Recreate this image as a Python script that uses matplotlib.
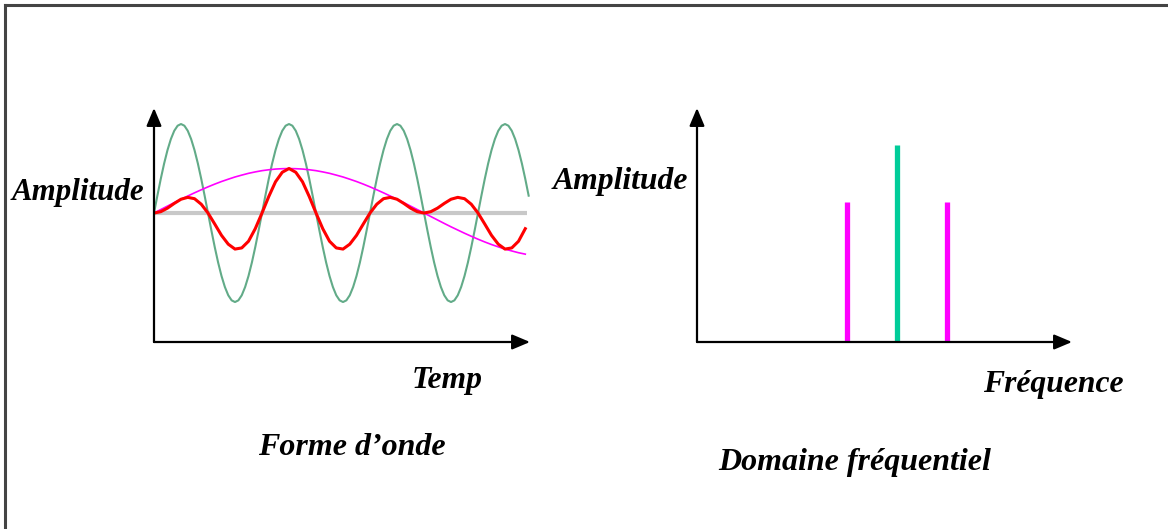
import matplotlib
matplotlib.use("Agg")
import matplotlib.pyplot as plt
from matplotlib.lines import Line2D

# waveform samples (one sample every ~6.75 px of time)
t = list(range(56))
magenta = [0, 0.039, 0.078, 0.117, 0.155, 0.191, 0.227, 0.261, 0.294, 0.325, 0.354, 0.380, 0.405, 0.426,
           0.446, 0.462, 0.476, 0.486, 0.494, 0.498, 0.5, 0.498, 0.494, 0.486, 0.476, 0.462, 0.446, 0.426,
           0.405, 0.380, 0.354, 0.325, 0.294, 0.261, 0.227, 0.191, 0.155, 0.117, 0.078, 0.039, 0,
           -0.039, -0.078, -0.117, -0.155, -0.191, -0.227, -0.261, -0.294, -0.325, -0.354, -0.380,
           -0.405, -0.426, -0.446, -0.462]
red = [0, 0.015, 0.055, 0.108, 0.155, 0.176, 0.161, 0.099, 0, -0.124, -0.251, -0.350, -0.405, -0.392,
       -0.317, -0.176, 0, 0.185, 0.351, 0.458, 0.5, 0.458, 0.351, 0.185, 0, -0.176, -0.317, -0.392,
       -0.405, -0.350, -0.251, -0.124, 0, 0.099, 0.161, 0.176, 0.155, 0.108, 0.055, 0.015, 0,
       0.015, 0.055, 0.108, 0.155, 0.176, 0.161, 0.099, 0, -0.124, -0.251, -0.350, -0.405, -0.392,
       -0.317, -0.176]

# green carrier, sampled twice as often (every half step)
t_green = [i * 0.5 for i in range(112)]
green_period = [0, 0.195, 0.383, 0.556, 0.707, 0.831, 0.924, 0.981, 1.0, 0.981, 0.924, 0.831,
                0.707, 0.556, 0.383, 0.195, 0, -0.195, -0.383, -0.556, -0.707, -0.831, -0.924,
                -0.981, -1.0, -0.981, -0.924, -0.831, -0.707, -0.556, -0.383, -0.195]
green = green_period * 3 + green_period[:16]

# spectrum lines (right panel)
freqs = [3, 4, 5]
amps = [0.71, 1.0, 0.71]
line_colors = ["#ff00ff", "#00cc99", "#ff00ff"]

W, H = 1168, 529
fig = plt.figure(figsize=(W / 100, H / 100), dpi=100)
fig.patch.set_facecolor("white")

def px_axes(x0, y0, x1, y1):
    # x0,y0 = top-left, x1,y1 = bottom-right in pixels
    return fig.add_axes([x0 / W, 1 - y1 / H, (x1 - x0) / W, (y1 - y0) / H])

def draw_arrows(ax):
    kw = dict(arrowstyle="-|>,head_length=0.9,head_width=0.38", mutation_scale=12,
              color="black", lw=1.6, shrinkA=0, shrinkB=0)
    ax.annotate("", xy=(1, 0), xytext=(0, 0), xycoords="axes fraction",
                arrowprops=kw, annotation_clip=False)
    ax.annotate("", xy=(0, 1), xytext=(0, 0), xycoords="axes fraction",
                arrowprops=kw, annotation_clip=False)

# left: waveforms
ax1 = px_axes(154, 108, 530, 342)
ax1.set_xlim(0, 55.7)
ax1.set_ylim(-1.449, 1.18)
ax1.axis("off")
ax1.plot([0, 55.3], [0, 0], color="#c8c8c8", lw=3, solid_capstyle="butt")
ax1.plot(t_green, green, color="#62ab88", lw=1.5)
ax1.plot(t, magenta, color="#ff00ff", lw=1.2)
ax1.plot(t, red, color="#ff0000", lw=2.2)
draw_arrows(ax1)

# right: spectrum
ax2 = px_axes(697, 108, 1072, 342)
ax2.set_xlim(0, 7.5)
ax2.set_ylim(0, 234 / 197)
ax2.axis("off")
for f, a, c in zip(freqs, amps, line_colors):
    ax2.vlines(f, 0, a, color=c, lw=3.8)
draw_arrows(ax2)

txt = dict(family="Liberation Serif", weight="bold", style="italic", color="black",
           ha="left", va="baseline")
fig.text(12 / W, 1 - 200 / H, "Amplitude", fontsize=22.3, **txt)
fig.text(553 / W, 1 - 189 / H, "Amplitude", fontsize=22.8, **txt)
fig.text(412 / W, 1 - 388 / H, "Temp", fontsize=22.8, **txt)
fig.text(983 / W, 1 - 392 / H, "Fréquence", fontsize=22.8, **txt)
fig.text(258 / W, 1 - 455 / H, "Forme d\u2019onde", fontsize=23, **txt)
fig.text(718 / W, 1 - 470 / H, "Domaine fréquentiel", fontsize=23, **txt)

# frame (top and left edges only)
fig.add_artist(Line2D([5 / W, 1], [1 - 5 / H, 1 - 5 / H], color="#444444", lw=2.2))
fig.add_artist(Line2D([5 / W, 5 / W], [0, 1 - 5 / H], color="#444444", lw=2.2))

fig.savefig("out.png", dpi=100, facecolor="white")
